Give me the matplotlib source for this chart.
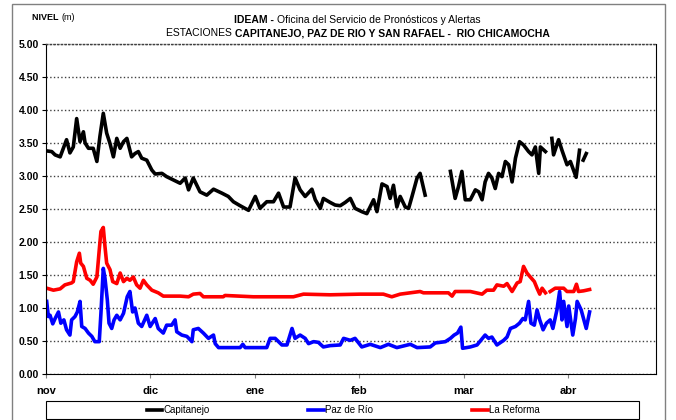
import matplotlib.pyplot as plt
import numpy as np
from matplotlib.patches import Rectangle

nan = np.nan

months = ['nov', 'dic', 'ene', 'feb', 'mar', 'abr']
month_start = [0, 31, 62, 93, 124, 155]

# Capitanejo
cap_day = [0.2, 1.7, 2.7, 4.2, 6.1, 7.1, 8.1, 9.1, 10.1, 11.1, 11.6, 12.6, 14.0, 15.1, 16.0, 17.0, 18.0,
           19.0, 20.0, 21.0, 22.0, 23.0, 24.0, 25.4, 26.4, 27.4, 28.4, 29.9, 31.4, 32.4, 34.4, 35.8, 37.8,
           39.8, 41.3, 42.3, 43.7, 45.7, 47.7, 49.7, 52.2, 54.1, 55.6, 57.6, 60.1, 62.1, 63.5, 65.5, 67.5,
           69.0, 70.5, 72.4, 73.9, 75.4, 76.9, 78.9, 79.9, 81.4, 82.3, 84.3, 85.8, 87.3, 88.8, 90.3, 91.7,
           93.7, 95.2, 97.2, 98.2, 99.7, 101.2, 102.1, 103.1, 104.1, 105.1, 106.6, 107.6, 108.6, 110.1,
           111.0, 112.5, 116.0,
           120.0, 121.4, 122.4, 123.4, 124.4, 125.9, 127.4, 128.4, 129.4, 130.3, 131.3, 132.3, 133.3, 134.3,
           135.3, 136.3, 137.3, 138.3, 139.3, 140.5, 141.7, 143.2, 144.2, 145.2, 146.2, 146.7, 148.2, 149.2,
           150.1, 150.6, 152.1, 153.1, 154.6, 155.6, 157.3, 158.3, 158.9, 159.4, 160.3]
cap_val = [3.38, 3.37, 3.32, 3.29, 3.55, 3.35, 3.44, 3.87, 3.52, 3.67, 3.50, 3.42, 3.42, 3.22, 3.60, 3.95, 3.65,
           3.49, 3.29, 3.57, 3.42, 3.52, 3.57, 3.29, 3.34, 3.37, 3.27, 3.24, 3.09, 3.03, 3.04, 2.99, 2.94,
           2.89, 2.97, 2.79, 2.97, 2.76, 2.71, 2.80, 2.74, 2.69, 2.61, 2.55, 2.48, 2.69, 2.51, 2.61, 2.61,
           2.74, 2.53, 2.53, 2.97, 2.79, 2.69, 2.80, 2.64, 2.51, 2.66, 2.60, 2.56, 2.55, 2.60, 2.66, 2.51,
           2.46, 2.43, 2.64, 2.46, 2.88, 2.84, 2.66, 2.86, 2.53, 2.69, 2.53, 2.51, 2.69, 2.97,
           3.04, 2.71, nan,
           3.07, 2.66, 2.84, 3.07, 2.64, 2.64, 2.79, 2.76, 2.64, 2.91, 3.04, 2.97, 2.81, 3.04,
           2.99, 3.22, 3.17, 2.91, 3.27, 3.52, 3.47, 3.37, 3.32, 3.44, 3.04, 3.44, 3.37, nan,
           3.57, 3.32, 3.55, 3.39, 3.17, 3.22, 2.98, 3.39, nan, 3.24, 3.34]

# Paz de Rio
paz_day = [0.2, 0.7, 1.2, 2.0, 2.7, 3.7, 4.4, 5.3, 6.1, 7.1, 7.6, 8.6, 9.3, 10.1, 10.6, 11.6, 12.6, 13.6,
           14.5, 15.8, 16.3, 17.0, 17.5, 18.2, 18.7, 19.5, 20.2, 21.0, 22.0, 23.0, 24.1, 24.9, 25.7, 26.4,
           27.4, 28.4, 29.9, 30.9, 32.4, 33.3, 34.8, 35.8, 37.3, 38.3, 38.8, 40.3, 41.8, 43.3, 43.7, 45.2,
           46.7, 48.2, 49.7, 50.2, 51.2, 57.6, 58.4, 59.1, 65.5, 66.5, 68.0, 70.0, 71.5, 73.0, 73.9, 75.4,
           76.9, 77.9, 79.4, 80.8, 82.3, 84.3, 87.3, 88.3, 90.3, 91.7, 93.7, 96.2, 99.2, 101.6, 104.1,
           108.1, 110.1, 114.0, 115.5, 118.5, 120.0, 121.1, 122.1, 123.1, 123.6, 125.9, 127.9, 130.3,
           131.3, 132.3, 133.8, 135.8, 136.8, 137.8, 139.3, 140.5, 141.5, 142.2, 143.2, 143.9, 144.9,
           145.7, 146.5, 147.5, 148.5, 149.6, 150.4, 151.6, 152.4, 153.1, 153.6, 154.6, 155.1, 156.3,
           157.1, 157.6, 158.8, 159.6, 160.3, 161.3]
paz_val = [1.10, 0.87, 0.89, 0.76, 0.84, 0.94, 0.77, 0.82, 0.67, 0.59, 0.82, 0.87, 0.94, 1.10, 0.72, 0.69, 0.62, 0.57,
           0.49, 0.49, 0.92, 1.60, 1.45, 1.12, 0.77, 0.69, 0.82, 0.89, 0.82, 0.92, 1.17, 1.25, 0.94, 1.00,
           0.77, 0.72, 0.89, 0.72, 0.84, 0.69, 0.62, 0.74, 0.74, 0.82, 0.64, 0.59, 0.57, 0.49, 0.67, 0.69,
           0.62, 0.54, 0.59, 0.46, 0.40, 0.40, 0.45, 0.40, 0.40, 0.54, 0.54, 0.44, 0.44, 0.69, 0.54, 0.59,
           0.54, 0.46, 0.49, 0.48, 0.41, 0.43, 0.44, 0.54, 0.51, 0.54, 0.41, 0.45, 0.40, 0.45, 0.40,
           0.45, 0.40, 0.41, 0.47, 0.49, 0.54, 0.59, 0.62, 0.71, 0.39, 0.41, 0.44, 0.59,
           0.54, 0.56, 0.44, 0.51, 0.56, 0.69, 0.72, 0.77, 0.84, 0.82, 1.10, 0.77, 0.74,
           0.97, 0.82, 0.67, 0.77, 0.82, 0.69, 0.97, 1.25, 0.82, 1.10, 0.72, 1.03, 0.59,
           0.84, 1.10, 0.97, 0.82, 0.69, 0.94]

# La Reforma
ref_day = [0.2, 2.2, 4.2, 5.6, 7.6, 8.1, 9.1, 9.9, 10.3, 11.1, 12.1, 13.1, 14.0, 15.1, 15.8, 16.3, 17.0, 17.5,
           18.0, 19.0, 19.8, 21.0, 22.0, 23.0, 24.0, 24.9, 25.9, 26.9, 27.9, 28.9, 29.9, 31.4, 33.3, 34.8,
           39.8, 42.3, 43.7, 45.7, 46.7, 52.6, 53.1, 61.5, 67.5, 73.4, 76.4, 84.3, 93.2, 100.1, 102.6,
           105.1, 111.0, 112.0, 119.4, 120.5, 121.4, 125.9, 129.4, 130.8, 132.8, 133.8, 135.8, 136.8,
           138.3, 139.8, 140.7, 141.7, 142.7, 143.7, 144.9, 145.7, 146.5, 147.2, 148.2, 148.9,
           149.6, 151.1, 153.6, 154.6, 156.6, 157.4, 158.0, 159.5, 161.3]
ref_val = [1.30, 1.27, 1.29, 1.35, 1.38, 1.40, 1.70, 1.83, 1.68, 1.63, 1.45, 1.42, 1.36, 1.47, 1.88, 2.16, 2.22, 1.93,
           1.68, 1.58, 1.40, 1.37, 1.53, 1.40, 1.45, 1.42, 1.47, 1.35, 1.30, 1.42, 1.35, 1.27, 1.23, 1.18,
           1.18, 1.17, 1.21, 1.22, 1.17, 1.17, 1.19, 1.17, 1.17, 1.17, 1.21, 1.20, 1.21, 1.21, 1.17,
           1.21, 1.25, 1.23, 1.23, 1.18, 1.25, 1.25, 1.21, 1.27, 1.27, 1.35, 1.33, 1.37,
           1.25, 1.38, 1.40, 1.63, 1.53, 1.47, 1.40, 1.30, 1.21, 1.30, 1.23, nan,
           1.25, 1.30, 1.30, 1.25, 1.25, 1.36, 1.25, 1.26, 1.28]

W, H = 676, 420
plt.rcParams['font.family'] = ['Liberation Sans', 'DejaVu Sans']
fig = plt.figure(figsize=(W / 100, H / 100), dpi=100)
ax = fig.add_axes([46 / W, 1 - 374 / H, 610 / W, 330 / H])

ax.plot(cap_day, cap_val, color='black', lw=2.6, label='Capitanejo')
ax.plot(paz_day, paz_val, color='#0000ff', lw=2.6, label='Paz de Río')
ax.plot(ref_day, ref_val, color='#ff0000', lw=2.6, label='La Reforma')

ax.set_xlim(0, 181)
ax.set_ylim(0, 5)
ax.set_yticks(np.arange(0, 5.01, 0.5))
ax.set_yticklabels(['%.2f' % v for v in np.arange(0, 5.01, 0.5)], fontweight='bold', fontsize=7.5)
ax.set_xticks(month_start)
ax.set_xticklabels(months, fontweight='bold', fontsize=8)
ax.tick_params(axis='y', length=3, width=0.8, pad=2)
ax.tick_params(axis='x', length=3, width=0.8, pad=6, color='#808080')
ax.grid(axis='y', linestyle=':', color='#404040', lw=1.0)
for s in ['left', 'bottom', 'right']:
    ax.spines[s].set_color('black')
ax.spines['top'].set_linestyle(':')
ax.spines['top'].set_color('#404040')
ax.spines['top'].set_linewidth(1.0)

# outer frame
fig.add_artist(Rectangle((12 / W, -0.1), 653 / W, 1.1 - 4 / H, transform=fig.transFigure,
                         fill=False, edgecolor='#808080', lw=1))

r = fig.canvas.get_renderer()


def mixed(y, parts, x0, size, center=True):
    texts = [fig.text(0, y, s, fontsize=size, fontweight=w, va='baseline') for s, w in parts]
    widths = [t.get_window_extent(r).width for t in texts]
    x = x0 - sum(widths) / 2 if center else x0
    for t, w in zip(texts, widths):
        t.set_x(x / W)
        x += w


mixed(1 - 20 / H, [('NIVEL\u00a0', 'bold'), ('(m)', 'normal')], 32, 6.5, center=False)
mixed(1 - 23 / H, [('IDEAM -\u00a0', 'bold'), ('Oficina del Servicio de Pronósticos y Alertas', 'normal')], 357, 7.5)
mixed(1 - 36 / H, [('ESTACIONES\u00a0', 'normal'),
                   ('CAPITANEJO, PAZ DE RIO Y SAN RAFAEL -  RIO CHICAMOCHA', 'bold')], 358, 7.5)

# legend box
fig.add_artist(Rectangle((46 / W, 1 - 419 / H), 593 / W, 18 / H, transform=fig.transFigure,
                         fill=False, edgecolor='black', lw=0.8))
fig.legend(loc='center', bbox_to_anchor=(343 / W, 1 - 410 / H), ncol=3, frameon=False, fontsize=7,
           handlelength=1.6, handletextpad=0.1, columnspacing=10.2, borderpad=0)

plt.savefig('out.png', dpi=100)
